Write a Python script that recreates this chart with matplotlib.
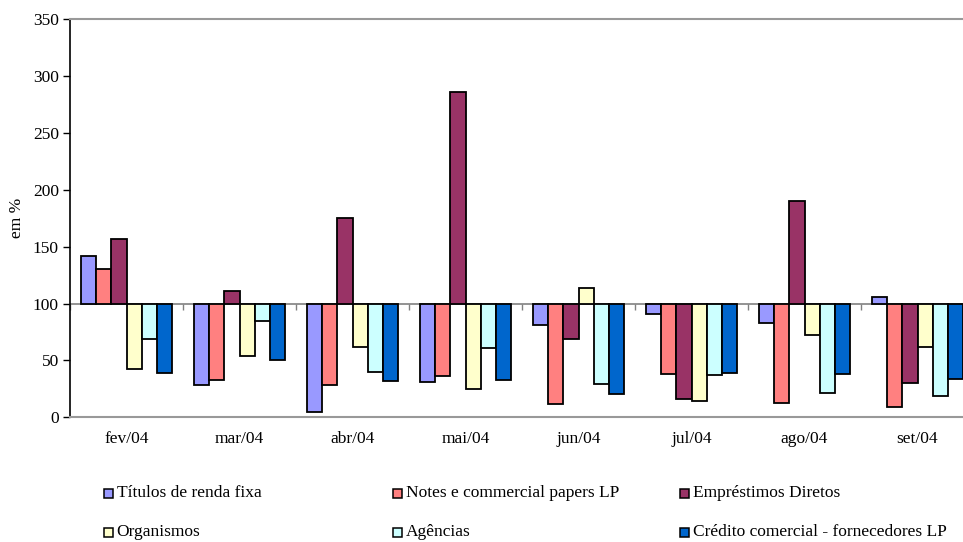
import matplotlib
matplotlib.use("Agg")
import matplotlib.pyplot as plt
from matplotlib.patches import Rectangle
import numpy as np

plt.rcParams['font.family'] = ['Liberation Serif', 'DejaVu Serif']

months = ["fev/04", "mar/04", "abr/04", "mai/04", "jun/04", "jul/04", "ago/04", "set/04"]

titulos = [142, 28, 5, 31, 81, 91, 83, 105.5]
notes = [130.5, 33, 28, 36, 12, 38, 12.5, 9]
emprestimos = [157, 111, 175.5, 286, 68.5, 16, 190, 30.5]
organismos = [42.5, 54, 62, 25, 114, 14, 72, 61.5]
agencias = [68.5, 84.5, 39.5, 61, 29.5, 37, 21, 19]
credito = [38.7, 50.5, 31.5, 33, 20.5, 39, 38, 33.5]

series_names = ["Títulos de renda fixa", "Notes e commercial papers LP", "Empréstimos Diretos",
                "Organismos", "Agências", "Crédito comercial - fornecedores LP"]
series_values = [titulos, notes, emprestimos, organismos, agencias, credito]
colors = ["#9999FF", "#FF8080", "#993366", "#FFFFCC", "#CCFFFF", "#0066CC"]

baseline = 100
y_ticks = [0, 50, 100, 150, 200, 250, 300, 350]

W, H = 963, 542
fig = plt.figure(figsize=(W / 100, H / 100), dpi=100)
ax = fig.add_axes([70 / W, 1 - 417.3 / H, 904 / W, 398.3 / H])

n = len(series_values)
bar_w = 1 / 7.5
x = np.arange(len(months))
for j, (vals, col) in enumerate(zip(series_values, colors)):
    v = np.array(vals, dtype=float)
    ax.bar(x + (j - (n - 1) / 2) * bar_w, v - baseline, bottom=baseline, width=bar_w,
           color=col, edgecolor="black", linewidth=1.3, zorder=3)

ax.set_xlim(-0.5, len(months) - 0.5)
ax.set_ylim(0, 350)
ax.set_yticks(y_ticks)
ax.tick_params(axis="y", direction="out", length=5, width=1, labelsize=12.5, pad=3, colors="black")

ax.set_xticks(x)
ax.set_xticklabels(months, fontsize=12.5)
ax.tick_params(axis="x", length=0, pad=10)

ax.spines["right"].set_visible(False)
ax.spines["left"].set_color("black")
ax.spines["left"].set_linewidth(1.2)
for s in ("top", "bottom"):
    ax.spines[s].set_color("#999999")
    ax.spines[s].set_linewidth(1.5)

# category axis crossing the value axis at 100
ax.axhline(baseline, color="#808080", linewidth=1.2, zorder=2)
sec = ax.secondary_xaxis(baseline / 350)
sec.set_xticks(np.arange(len(months) + 1) - 0.5)
sec.set_xticklabels([])
sec.tick_params(axis="x", direction="out", length=4, width=1, colors="#808080")
sec.spines["bottom"].set_visible(False)

ax.set_ylabel("em %", fontsize=12.5, labelpad=6)

# legend laid out in three equal columns
col_x = [108, 397, 684]
row_y = [493, 532]
for k, (name, col) in enumerate(zip(series_names, colors)):
    cx = col_x[k % 3]
    cy = row_y[k // 3]
    sq = 9
    fig.patches.append(Rectangle(((cx - sq / 2) / W, 1 - (cy + sq / 2) / H), sq / W, sq / H,
                                 transform=fig.transFigure, facecolor=col, edgecolor="black",
                                 linewidth=1.1))
    fig.text((cx + 8.5) / W, 1 - cy / H, name, fontsize=12.5, va="center", ha="left")

fig.savefig("out.png", dpi=100)
